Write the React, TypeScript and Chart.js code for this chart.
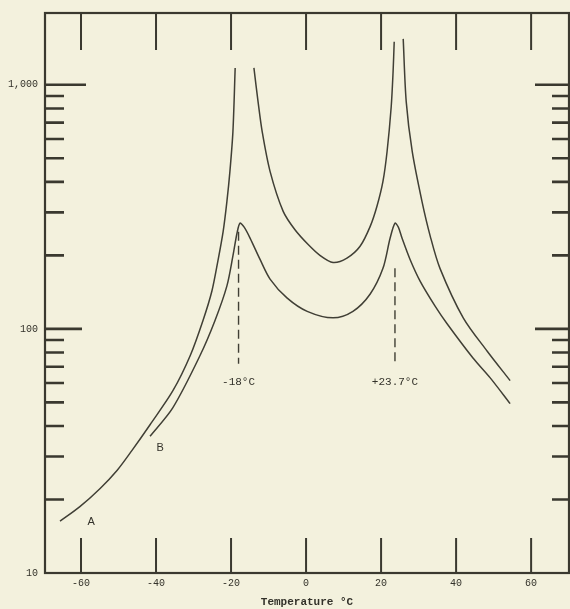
import React, { useEffect, useRef } from 'react';
import { Chart, registerables } from 'chart.js';

Chart.register(...registerables);

// Axis values
const xTickValues = [-60, -40, -20, 0, 20, 40, 60];
const yLabelValues = [10, 100, 1000];
const yMajorMarks = [100, 1000];
const yMinorMarks = [20, 30, 40, 50, 60, 70, 80, 90, 200, 300, 400, 500, 600, 700, 800, 900];

// Curve A, left branch (below -18 °C)
const aLeftT = [-65.6, -60.3, -54.9, -50.4, -46.4, -41.6, -35.5, -30.9, -27.5, -25.1, -23.5, -22.1, -21.1, -20.3, -19.5, -18.9];
const aLeftV = [16.3, 18.7, 22.2, 26.3, 31.8, 40.5, 55.8, 77.6, 108, 143, 190, 251, 333, 442, 643, 1172];

// Curve A, middle branch (between the two transitions)
const aMidT = [-13.9, -12.8, -11.7, -9.6, -6.1, -2.9, 0.5, 3.7, 7.2, 10.9, 14.4, 17.1, 18.9, 20.5, 21.6, 22.7, 23.2, 23.5];
const aMidV = [1172, 853, 643, 442, 303, 254, 222, 200, 187, 195, 218, 263, 318, 402, 533, 813, 1130, 1500];

// Curve A, right branch (above +23.7 °C)
const aRightT = [25.9, 26.7, 28.3, 30.9, 33.1, 35.7, 41.9, 48.3, 54.4];
const aRightV = [1542, 853, 533, 333, 240, 177, 111, 81, 61.4];

// Curve B
const bT = [-41.6, -35.5, -28.3, -24.3, -21.1, -19.5, -18.4, -17.6, -16.5, -14.9, -12.3, -9.6, -5.1, 0.3, 7.2, 12.5, 17.1, 20.5, 22.4, 23.7, 24.6, 25.6, 27.7, 30.4, 34.4, 37.6, 44.5, 49.1, 54.4];
const bV = [36.3, 47.6, 77.6, 108, 150, 199, 247, 271, 261, 235, 193, 160, 134, 118, 111, 118, 139, 177, 235, 271, 261, 235, 193, 157, 124, 105, 76, 63, 49.4];

// Transition markers
const transitionT = [-18, 23.7];
const transitionTop = [250, 177];
const transitionBottom = [72, 72];
const transitionLabels = ['-18°C', '+23.7°C'];
const transitionLabelV = 60.8;

// Curve labels
const curveLabels = ['A', 'B'];
const curveLabelT = [-57.3, -38.9];
const curveLabelV = [16.2, 32.4];

const INK = '#3a392f';
const LINE = '#403f35';
const BG = '#f3f1dd';

const pts = (t: number[], v: number[]) => t.map((x, i) => ({ x, y: v[i] }));

const framePlugin = {
  id: 'frameTicks',
  afterDraw(chart: any) {
    const { ctx, chartArea } = chart;
    const xs = chart.scales.x;
    const ys = chart.scales.y;
    const { left, right, top, bottom } = chartArea;
    ctx.save();
    ctx.strokeStyle = INK;
    ctx.lineCap = 'butt';
    ctx.lineWidth = 2.2;
    ctx.strokeRect(left, top, right - left, bottom - top);
    ctx.lineWidth = 2;
    xTickValues.forEach((v) => {
      const px = xs.getPixelForValue(v);
      ctx.beginPath();
      ctx.moveTo(px, top);
      ctx.lineTo(px, top + 37);
      ctx.moveTo(px, bottom);
      ctx.lineTo(px, bottom - 35);
      ctx.stroke();
    });
    ctx.lineWidth = 2.6;
    yMinorMarks.forEach((v) => {
      const py = ys.getPixelForValue(v);
      ctx.beginPath();
      ctx.moveTo(left, py);
      ctx.lineTo(left + 19, py);
      ctx.moveTo(right, py);
      ctx.lineTo(right - 17, py);
      ctx.stroke();
    });
    yMajorMarks.forEach((v) => {
      const py = ys.getPixelForValue(v);
      const len = v === 1000 ? 41 : 37;
      ctx.beginPath();
      ctx.moveTo(left, py);
      ctx.lineTo(left + len, py);
      ctx.moveTo(right, py);
      ctx.lineTo(right - 34, py);
      ctx.stroke();
    });
    ctx.fillStyle = '#33322a';
    ctx.textAlign = 'center';
    ctx.textBaseline = 'middle';
    ctx.font = '11px "Liberation Mono"';
    transitionT.forEach((t, i) => {
      ctx.fillText(transitionLabels[i], xs.getPixelForValue(t), ys.getPixelForValue(transitionLabelV));
    });
    ctx.font = '11px "Liberation Sans"';
    curveLabels.forEach((s, i) => {
      ctx.fillText(s, xs.getPixelForValue(curveLabelT[i]), ys.getPixelForValue(curveLabelV[i]));
    });
    ctx.restore();
  },
};

export default function App() {
  const ref = useRef<HTMLCanvasElement>(null);
  useEffect(() => {
    if (!ref.current) return;
    const curve = (data: any[]) => ({
      data,
      showLine: true,
      borderColor: LINE,
      borderWidth: 1.5,
      pointRadius: 0,
      fill: false,
      tension: 0.3,
    });
    const dash = (i: number) => ({
      data: [
        { x: transitionT[i], y: transitionTop[i] },
        { x: transitionT[i], y: transitionBottom[i] },
      ],
      showLine: true,
      borderColor: LINE,
      borderWidth: 1.4,
      borderDash: [9, 5],
      pointRadius: 0,
      fill: false,
    });
    const chart = new Chart(ref.current, {
      type: 'scatter',
      data: {
        datasets: [
          curve(pts(aLeftT, aLeftV)),
          curve(pts(aMidT, aMidV)),
          curve(pts(aRightT, aRightV)),
          curve(pts(bT, bV)),
          dash(0),
          dash(1),
        ],
      },
      options: {
        animation: false,
        responsive: true,
        maintainAspectRatio: false,
        layout: { padding: { top: 11, right: 1, left: 0, bottom: 0 } },
        plugins: { legend: { display: false }, tooltip: { enabled: false } },
        scales: {
          x: {
            type: 'linear',
            min: -69.6,
            max: 70.1,
            grid: { display: false, drawTicks: false },
            border: { display: false },
            afterBuildTicks: (s: any) => {
              s.ticks = xTickValues.map((value) => ({ value }));
            },
            afterFit: (s: any) => {
              s.height = 36;
            },
            ticks: {
              padding: 4,
              color: '#33322a',
              font: { family: '"Liberation Mono"', size: 10 },
              maxRotation: 0,
              autoSkip: false,
            },
            title: {
              display: true,
              text: 'Temperature °C',
              color: '#33322a',
              font: { family: '"Liberation Mono"', size: 11, weight: 'bold' },
              padding: { top: 0, bottom: 0 },
            },
          },
          y: {
            type: 'logarithmic',
            min: 10,
            max: 1968,
            grid: { display: false, drawTicks: false },
            border: { display: false },
            afterBuildTicks: (s: any) => {
              s.ticks = yLabelValues.map((value) => ({ value }));
            },
            afterFit: (s: any) => {
              s.width = 45;
            },
            ticks: {
              padding: 7,
              color: '#33322a',
              font: { family: '"Liberation Mono"', size: 10 },
              autoSkip: false,
              callback: (v: any) => Number(v).toLocaleString('en-US'),
            },
          },
        },
      },
      plugins: [framePlugin],
    });
    return () => chart.destroy();
  }, []);
  return (
    <div style={{ position: 'absolute', left: 0, top: 0, width: 570, height: 609, background: BG }}>
      <canvas ref={ref} />
    </div>
  );
}
